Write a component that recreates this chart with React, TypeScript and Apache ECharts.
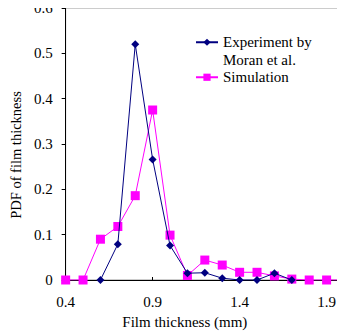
import React, { useEffect, useRef } from "react";
import * as echarts from "echarts";

const expX = [0.6, 0.7, 0.8, 0.9, 1.0, 1.1, 1.2, 1.3, 1.4, 1.5, 1.6, 1.7];
const expY = [0, 0.079, 0.52, 0.266, 0.076, 0.015, 0.016, 0.004, 0, 0, 0.015, 0];
const simX = [0.4, 0.5, 0.6, 0.7, 0.8, 0.9, 1.0, 1.1, 1.2, 1.3, 1.4, 1.5, 1.6, 1.7, 1.8, 1.9, 2.0];
const simY = [0, 0, 0.09, 0.118, 0.186, 0.375, 0.099, 0.01, 0.044, 0.033, 0.017, 0.017, 0.009, 0.002, 0, 0, 0];
const xTicks = [0.4, 0.9, 1.4, 1.9];
const EXP_NAME = "Experiment by\nMoran et al.";
const SIM_NAME = "Simulation";

const FONT = "Liberation Serif";
const FS = 15;

export default function App() {
  const ref = useRef<HTMLDivElement>(null);
  useEffect(() => {
    const chart = echarts.init(ref.current!, undefined, { renderer: "svg" });
    chart.setOption({
      animation: false,
      textStyle: { fontFamily: FONT, color: "#000" },
      grid: {
        left: 60,
        right: 1,
        top: 8,
        bottom: 56,
        show: true,
        borderColor: "#999",
        borderWidth: 1,
      },
      legend: {
        orient: "vertical",
        left: 190,
        top: 11,
        itemWidth: 22,
        itemHeight: 9,
        itemGap: 0,
        formatter: (name: string) => (name === EXP_NAME ? " \n" + name : name),
        textStyle: { fontFamily: FONT, fontSize: FS, color: "#000", lineHeight: 17.5 },
        data: [EXP_NAME, SIM_NAME],
      },
      xAxis: {
        type: "value",
        min: 0.4,
        max: 2.0,
        interval: 0.1,
        name: "Film thickness (mm)",
        nameLocation: "middle",
        nameGap: 34,
        nameTextStyle: { fontFamily: FONT, fontSize: FS, color: "#000", padding: [0, 40, 0, 0] },
        axisLine: { show: true, lineStyle: { color: "#000", width: 1 } },
        axisTick: { show: true, inside: true, length: 3, customValues: xTicks, lineStyle: { color: "#000" } },
        axisLabel: {
          customValues: xTicks,
          fontFamily: FONT,
          fontSize: FS,
          color: "#000",
          margin: 14,
          formatter: (v: number) => v.toFixed(1),
        },
        splitLine: { show: false },
      },
      yAxis: {
        type: "value",
        min: 0,
        max: 0.6,
        interval: 0.1,
        name: "PDF of film thickness",
        nameLocation: "middle",
        nameGap: 38,
        nameTextStyle: { fontFamily: FONT, fontSize: 14.5, color: "#000", padding: [0, 22, 0, 0] },
        axisLine: { show: true, lineStyle: { color: "#000", width: 1 } },
        axisTick: { show: true, inside: false, length: 4, lineStyle: { color: "#000" } },
        axisLabel: {
          fontFamily: FONT,
          fontSize: FS,
          color: "#000",
          margin: 13,
          formatter: (v: number) => (v === 0 ? "0" : v.toFixed(1)),
        },
        splitLine: { show: false },
      },
      series: [
        {
          name: SIM_NAME,
          type: "line",
          data: simX.map((x, i) => [x, simY[i]]),
          symbol: "rect",
          symbolSize: 9,
          color: "#FF00FF",
          lineStyle: { color: "#FF00FF", width: 1 },
          itemStyle: { color: "#FF00FF" },
          z: 2,
        },
        {
          name: EXP_NAME,
          type: "line",
          data: expX.map((x, i) => [x, expY[i]]),
          symbol: "diamond",
          symbolSize: 8,
          color: "#000080",
          lineStyle: { color: "#000080", width: 1 },
          itemStyle: { color: "#000080" },
          z: 3,
        },
      ],
    });
    return () => chart.dispose();
  }, []);
  return <div ref={ref} style={{ width: 345, height: 336, margin: "-8px 0 0 -8px" }} />;
}
